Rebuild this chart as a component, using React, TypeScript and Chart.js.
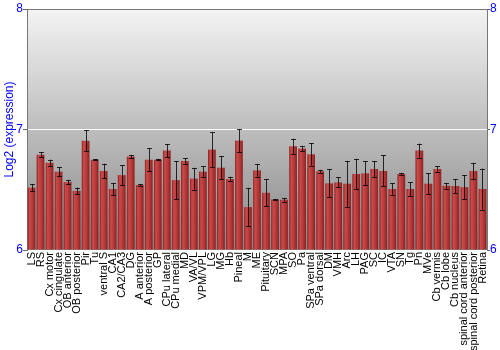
import React, { useEffect, useRef } from "react";
import { Chart, registerables } from "chart.js";

Chart.register(...registerables);

const regions = [
  "LS", "RS", "Cx motor", "Cx cingulate", "OB anterior", "OB posterior", "Pir", "Tu",
  "ventral S", "CA1", "CA2/CA3", "DG", "A anterior", "A posterior", "GP", "CPu lateral",
  "CPu medial", "MD", "VA/VL", "VPM/VPL", "LG", "MG", "Hb", "Pineal", "M", "ME",
  "Pituitary", "SCN", "MPA", "SO", "Pa", "SPa ventral", "SPa dorsal", "DM", "VMH", "Arc",
  "LH", "PAG", "SC", "IC", "VTA", "SN", "Tg", "Pn", "MVe", "Cb vermis", "Cb lobe",
  "Cb nucleus", "spinal cord anterior", "spinal cord posterior", "Retina",
];

const expression = [
  6.517, 6.79, 6.725, 6.65, 6.564, 6.49, 6.906, 6.75,
  6.656, 6.506, 6.622, 6.775, 6.539, 6.75, 6.75, 6.825,
  6.58, 6.739, 6.592, 6.65, 6.833, 6.683, 6.589, 6.908, 6.356, 6.661,
  6.475, 6.419, 6.417, 6.861, 6.842, 6.794, 6.653, 6.553, 6.561, 6.55,
  6.631, 6.636, 6.672, 6.656, 6.506, 6.631, 6.506, 6.825, 6.55, 6.672, 6.533,
  6.531, 6.522, 6.656, 6.506,
];

const errors = [
  0.03, 0.022, 0.025, 0.04, 0.018, 0.028, 0.088, 0.005,
  0.06, 0.048, 0.083, 0.014, 0.007, 0.094, 0.007, 0.053,
  0.157, 0.022, 0.09, 0.043, 0.143, 0.096, 0.019, 0.094, 0.16, 0.053,
  0.114, 0.005, 0.015, 0.0625, 0.022, 0.093, 0.0125, 0.117, 0.042, 0.19,
  0.126, 0.1, 0.067, 0.129, 0.047, 0.008, 0.058, 0.058, 0.085, 0.021, 0.024,
  0.058, 0.1, 0.067, 0.17,
];

const yTicks = [6, 7, 8];
const yTitle = "Log2 (expression)";

const FONT = "'Liberation Sans', Arial, sans-serif";

const backgroundPlugin = {
  id: "bgGradient",
  beforeDraw(chart: any) {
    const { ctx, chartArea } = chart;
    if (!chartArea) return;
    const g = ctx.createLinearGradient(0, chartArea.top, 0, chartArea.bottom);
    g.addColorStop(0, "#f3f3f3");
    g.addColorStop(1, "#878787");
    ctx.save();
    ctx.fillStyle = g;
    ctx.fillRect(chartArea.left, chartArea.top, chartArea.right - chartArea.left, chartArea.bottom - chartArea.top);
    ctx.restore();
  },
};

const errorBarPlugin = {
  id: "errorBars",
  afterDatasetsDraw(chart: any) {
    const { ctx } = chart;
    const xs = chart.scales.x;
    const ys = chart.scales.y;
    ctx.save();
    ctx.strokeStyle = "rgba(0,0,0,0.8)";
    ctx.lineWidth = 1;
    expression.forEach((v, i) => {
      const e = errors[i];
      const x = Math.round(xs.getPixelForValue(i)) + 0.5;
      const y1 = ys.getPixelForValue(v + e);
      const y2 = ys.getPixelForValue(v - e);
      ctx.beginPath();
      ctx.moveTo(x, y1);
      ctx.lineTo(x, y2);
      ctx.moveTo(x - 2.5, Math.round(y1) + 0.5);
      ctx.lineTo(x + 2.5, Math.round(y1) + 0.5);
      ctx.moveTo(x - 2.5, Math.round(y2) + 0.5);
      ctx.lineTo(x + 2.5, Math.round(y2) + 0.5);
      ctx.stroke();
    });
    ctx.restore();
  },
};

export default function App() {
  const ref = useRef<HTMLCanvasElement | null>(null);

  useEffect(() => {
    if (!ref.current) return;
    const chart = new Chart(ref.current, {
      type: "bar",
      data: {
        labels: regions,
        datasets: [
          {
            data: expression,
            base: 6,
            barPercentage: 0.86,
            categoryPercentage: 1,
            borderWidth: 0,
            backgroundColor: (c: any) => {
              const ch = c.chart;
              const xs = ch.scales && ch.scales.x;
              if (!xs || !ch.chartArea) return "#b83232";
              const cx = xs.getPixelForValue(c.dataIndex);
              const step = xs.getPixelForValue(1) - xs.getPixelForValue(0);
              const w = step * 0.86;
              const g = ch.ctx.createLinearGradient(cx - w / 2, 0, cx + w / 2, 0);
              g.addColorStop(0, "#8a2020");
              g.addColorStop(0.25, "#cc4a4a");
              g.addColorStop(0.6, "#b63a3a");
              g.addColorStop(1, "#8a2222");
              return g;
            },
          } as any,
        ],
      },
      options: {
        animation: false,
        responsive: false,
        maintainAspectRatio: false,
        layout: { padding: { top: 9, left: 0, right: 0, bottom: 0 } },
        plugins: { legend: { display: false }, tooltip: { enabled: false } },
        scales: {
          x: {
            grid: { display: false, drawTicks: false },
            border: { display: false },
            ticks: {
              autoSkip: false,
              maxRotation: 90,
              minRotation: 90,
              padding: 2,
              color: "#000",
              font: { family: FONT, size: 11 },
            },
            afterFit(s: any) {
              s.height = 100;
            },
          },
          y: {
            min: 6,
            max: 8,
            afterBuildTicks(s: any) {
              s.ticks = yTicks.map((v) => ({ value: v }));
            },
            grid: {
              color: (c: any) =>
                c.tick && c.tick.value === 7 ? "#ffffff" : c.tick && c.tick.value === 8 ? "#777777" : "rgba(0,0,0,0)",
              tickColor: "#666666",
              tickLength: 4,
              lineWidth: 1,
            },
            border: { display: true, color: "#777777" },
            ticks: {
              padding: 0,
              color: "#0000ff",
              font: { family: FONT, size: 12 },
            },
            title: {
              display: true,
              text: yTitle,
              color: "#0000ff",
              font: { family: FONT, size: 12 },
              padding: { top: 2, bottom: 0 },
            },
            afterFit(s: any) {
              s.width = 27;
            },
          },
          y2: {
            position: "right",
            min: 6,
            max: 8,
            afterBuildTicks(s: any) {
              s.ticks = yTicks.map((v) => ({ value: v }));
            },
            grid: { drawOnChartArea: false, tickColor: "#666666", tickLength: 3 },
            border: { display: true, color: "#777777" },
            ticks: {
              padding: 0,
              color: "#0000ff",
              font: { family: FONT, size: 12 },
            },
            afterFit(s: any) {
              s.width = 13;
            },
          },
        },
      } as any,
      plugins: [backgroundPlugin, errorBarPlugin],
    });
    return () => chart.destroy();
  }, []);

  return (
    <div style={{ position: "fixed", left: 0, top: 0, width: 500, height: 350, background: "#fff" }}>
      <canvas ref={ref} width={500} height={350} style={{ display: "block", width: 500, height: 350 }} />
    </div>
  );
}
